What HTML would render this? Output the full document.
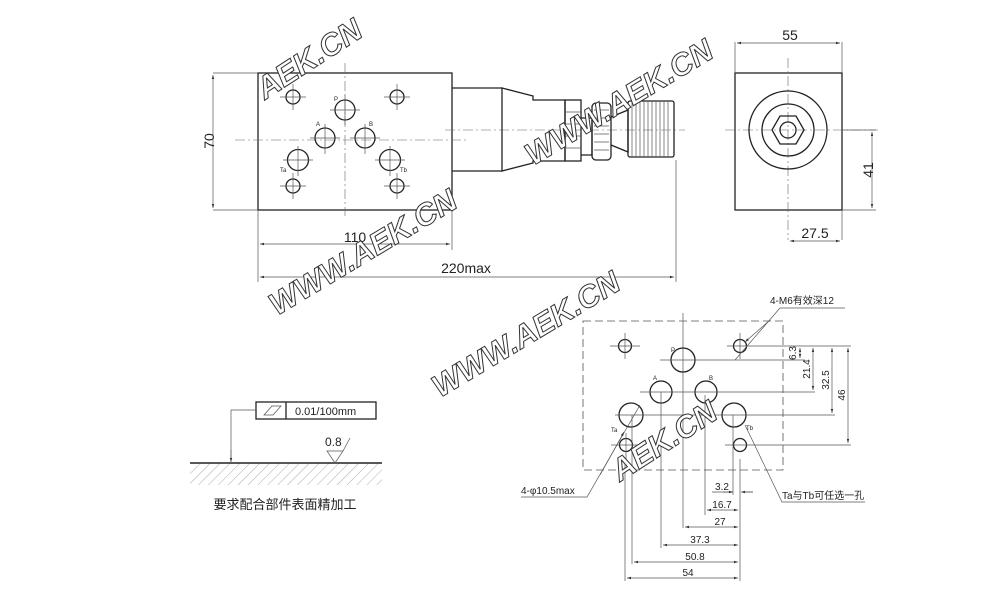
<!DOCTYPE html>
<html><head><meta charset="utf-8"><style>
html,body{margin:0;padding:0;background:#fff}
svg{display:block}
text{font-family:"Liberation Sans","Noto Sans CJK SC",sans-serif;fill:#222}
.l{stroke:#222;fill:none;stroke-width:1.3}
.t{stroke:#555;fill:none;stroke-width:0.7}
.c{stroke:#666;fill:none;stroke-width:0.6;stroke-dasharray:10 3 2 3}
.wm{font-family:"Liberation Sans",sans-serif;font-weight:bold;font-style:italic;font-size:31px;fill:#fff;stroke:#333;stroke-width:1}
</style></head><body>
<svg width="1000" height="610" viewBox="0 0 1000 610" xmlns="http://www.w3.org/2000/svg">
<defs>
<marker id="a" viewBox="0 0 10 10" refX="10" refY="5" markerWidth="6" markerHeight="6" orient="auto-start-reverse"><path d="M0,2 L10,5 L0,8 z" fill="#333"/></marker>
<pattern id="h" width="7" height="7" patternUnits="userSpaceOnUse" patternTransform="rotate(45)"><line x1="0" y1="0" x2="0" y2="7" stroke="#888" stroke-width="0.7"/></pattern>
</defs>

<!-- FRONT VIEW -->
<rect x="258" y="73" width="194" height="137" class="l"/>
<line x1="345" y1="63" x2="345" y2="216" class="c"/>
<line x1="235" y1="140" x2="468" y2="140" class="c"/>
<line x1="445" y1="130" x2="685" y2="130" class="c"/>
<g class="l">
<circle cx="293" cy="97" r="7"/><circle cx="397" cy="97" r="7"/>
<circle cx="345" cy="110" r="10"/>
<circle cx="325" cy="138" r="10"/><circle cx="365" cy="138" r="10"/>
<circle cx="298" cy="160" r="10.5"/><circle cx="390" cy="160" r="10.5"/>
<circle cx="293" cy="186" r="7"/><circle cx="397" cy="186" r="7"/>
</g>
<g class="t">
<path d="M280 97h26M293 84v26M384 97h26M397 84v26M330 110h30M345 95v30M310 138h30M325 124v30M350 138h30M365 124v30M283 160h30M298 146v30M375 160h30M390 146v30M280 186h26M293 173v26M384 186h26M397 173v26"/>
</g>
<g font-size="6" font-family="Liberation Serif"><text x="334" y="101">P</text><text x="316" y="126">A</text><text x="369" y="126">B</text><text x="280" y="172">Ta</text><text x="400" y="172">Tb</text></g>
<path class="l" d="M452 88H502V171H452M502 88L533 96V100H565V161H533V163L502 171Z"/>
<rect x="565" y="100" width="16" height="61" class="l"/>
<path class="t" d="M565 112h16M565 124h16M565 136h16M565 148h16"/>
<path class="l" d="M581 118h11v37h-11"/>
<rect x="592" y="103" width="19" height="57" rx="4" class="l"/>
<path class="t" d="M594 110h15M594 118h15M594 126h15M594 134h15M594 142h15M594 150h15"/>
<path class="l" d="M611 117L628 110V152L611 145"/>
<rect x="628" y="101" width="46" height="56" rx="2" class="l"/>
<path class="t" d="M632 101v56M636 101v56M640 101v56M644 101v56M648 101v56M652 101v56M656 101v56M660 101v56M664 101v56M668 101v56"/>
<!-- dims front -->
<path class="t" d="M213 73h45M213 210h45M258 210v72M452 210v40M676 160v122"/>
<line x1="213" y1="75" x2="213" y2="208" class="t" marker-start="url(#a)" marker-end="url(#a)"/>
<text x="209" y="146" font-size="14" transform="rotate(-90 209 141)" text-anchor="middle">70</text>
<line x1="260" y1="244" x2="450" y2="244" class="t" marker-start="url(#a)" marker-end="url(#a)"/>
<text x="355" y="242" font-size="14" text-anchor="middle">110</text>
<line x1="260" y1="277" x2="674" y2="277" class="t" marker-start="url(#a)" marker-end="url(#a)"/>
<text x="466" y="273" font-size="14" text-anchor="middle">220max</text>

<!-- SIDE VIEW -->
<rect x="735" y="73" width="107" height="137" class="l"/>
<line x1="788" y1="58" x2="788" y2="240" class="c"/>
<line x1="725" y1="130" x2="878" y2="130" class="c"/>
<g class="l"><circle cx="788" cy="130" r="39"/><circle cx="788" cy="130" r="26"/>
<polygon points="804,130 796,116 780,116 772,130 780,144 796,144"/><circle cx="788" cy="130" r="8"/></g>
<path class="t" d="M735 42v31M842 42v31M842 210h34M842 130h34M842 210v30"/>
<line x1="737" y1="43" x2="840" y2="43" class="t" marker-start="url(#a)" marker-end="url(#a)"/>
<text x="790" y="40" font-size="14" text-anchor="middle">55</text>
<line x1="872" y1="132" x2="872" y2="208" class="t" marker-start="url(#a)" marker-end="url(#a)"/>
<text x="868" y="175" font-size="14" transform="rotate(-90 868 170)" text-anchor="middle">41</text>
<line x1="790" y1="241" x2="840" y2="241" class="t" marker-start="url(#a)" marker-end="url(#a)"/>
<text x="815" y="238" font-size="14" text-anchor="middle">27.5</text>

<!-- BOTTOM RIGHT -->
<rect x="583" y="321" width="200" height="149" fill="none" stroke="#555" stroke-width="0.8" stroke-dasharray="8 4"/>
<line x1="683" y1="313" x2="683" y2="528" class="t"/>
<g class="l">
<circle cx="625" cy="346" r="6.5"/><circle cx="740" cy="346" r="6.5"/>
<circle cx="683" cy="360" r="12"/>
<circle cx="661" cy="392" r="11"/><circle cx="706" cy="392" r="11"/>
<circle cx="631" cy="415" r="12"/><circle cx="734" cy="415" r="12"/>
<circle cx="626" cy="445" r="6.5"/><circle cx="740" cy="445" r="6.5"/>
</g>
<g class="t">
<path d="M610 346h30M625 333v26M727 346h124M740 333v26M660 360h145M640 392h175M615 415h220M611 445h30M626 433v26M725 445h126"/>
<path d="M625 459v122M632 415v149M661 392v156M705 395v120M740 459v122M733 415v80"/>
</g>
<g font-size="6" font-family="Liberation Serif"><text x="671" y="352">P</text><text x="653" y="380">A</text><text x="709" y="380">B</text><text x="611" y="432">Ta</text><text x="746" y="430">Tb</text></g>
<g class="t">
<line x1="800" y1="348" x2="800" y2="358" marker-start="url(#a)" marker-end="url(#a)"/>
<line x1="813" y1="348" x2="813" y2="390" marker-start="url(#a)" marker-end="url(#a)"/>
<line x1="832" y1="348" x2="832" y2="413" marker-start="url(#a)" marker-end="url(#a)"/>
<line x1="848" y1="348" x2="848" y2="443" marker-start="url(#a)" marker-end="url(#a)"/>
</g>
<g font-size="10" text-anchor="middle">
<text transform="translate(796 353) rotate(-90)">6.3</text>
<text transform="translate(810 369) rotate(-90)">21.4</text>
<text transform="translate(829 380) rotate(-90)">32.5</text>
<text transform="translate(845 395) rotate(-90)">46</text>
</g>
<g class="t">
<path d="M712 492h21M745 492h8"/>
<line x1="723" y1="492" x2="733" y2="492" marker-end="url(#a)"/>
<line x1="753" y1="492" x2="741" y2="492" marker-end="url(#a)"/>
<line x1="707" y1="510" x2="738" y2="510" marker-start="url(#a)" marker-end="url(#a)"/>
<line x1="685" y1="527" x2="738" y2="527" marker-start="url(#a)" marker-end="url(#a)"/>
<line x1="663" y1="545" x2="738" y2="545" marker-start="url(#a)" marker-end="url(#a)"/>
<line x1="634" y1="562" x2="738" y2="562" marker-start="url(#a)" marker-end="url(#a)"/>
<line x1="627" y1="578" x2="738" y2="578" marker-start="url(#a)" marker-end="url(#a)"/>
</g>
<g font-size="10" text-anchor="middle">
<text x="722" y="490">3.2</text><text x="722" y="508">16.7</text><text x="720" y="525">27</text>
<text x="700" y="543">37.3</text><text x="695" y="560">50.8</text><text x="688" y="576">54</text>
</g>
<text x="770" y="304" font-size="10">4-M6有效深12</text>
<path class="t" d="M845 308H780L735 360"/>
<line x1="770" y1="320" x2="745" y2="342" class="t" marker-end="url(#a)"/>
<text x="521" y="494" font-size="10">4-φ10.5max</text>
<path class="t" d="M521 497H587L640 405"/>
<line x1="600" y1="475" x2="624" y2="432" class="t" marker-end="url(#a)"/>
<text x="782" y="499" font-size="10">Ta与Tb可任选一孔</text>
<path class="t" d="M865 502H782L745 425"/>

<!-- BOTTOM LEFT -->
<rect x="256" y="402" width="120" height="17" fill="none" stroke="#222" stroke-width="1.3"/>
<line x1="286" y1="402" x2="286" y2="419" stroke="#222" stroke-width="1.3"/>
<polygon points="264,415 272,406 281,406 273,415" class="t"/>
<text x="295" y="415" font-size="11">0.01/100mm</text>
<path class="t" d="M256 410H231V460"/>
<line x1="231" y1="450" x2="231" y2="462" class="t" marker-end="url(#a)"/>
<rect x="190" y="463" width="192" height="22" fill="url(#h)"/>
<line x1="190" y1="463" x2="382" y2="463" stroke="#222" stroke-width="1.6"/>
<path class="t" d="M327 451H343L335 463ZM343 451L350 438"/>
<text x="325" y="446" font-size="12">0.8</text>
<text x="285" y="509" font-size="13" text-anchor="middle">要求配合部件表面精加工</text>

<!-- WATERMARKS -->
<text class="wm" transform="translate(265 100) rotate(-33)">AEK.CN</text>
<text class="wm" transform="translate(533 166) rotate(-31)">WWW.AEK.CN</text>
<text class="wm" transform="translate(277 316) rotate(-31)">WWW.AEK.CN</text>
<text class="wm" transform="translate(440 398) rotate(-31)">WWW.AEK.CN</text>
<text class="wm" transform="translate(620 482) rotate(-33)">AEK.CN</text>
</svg>
</body></html>
